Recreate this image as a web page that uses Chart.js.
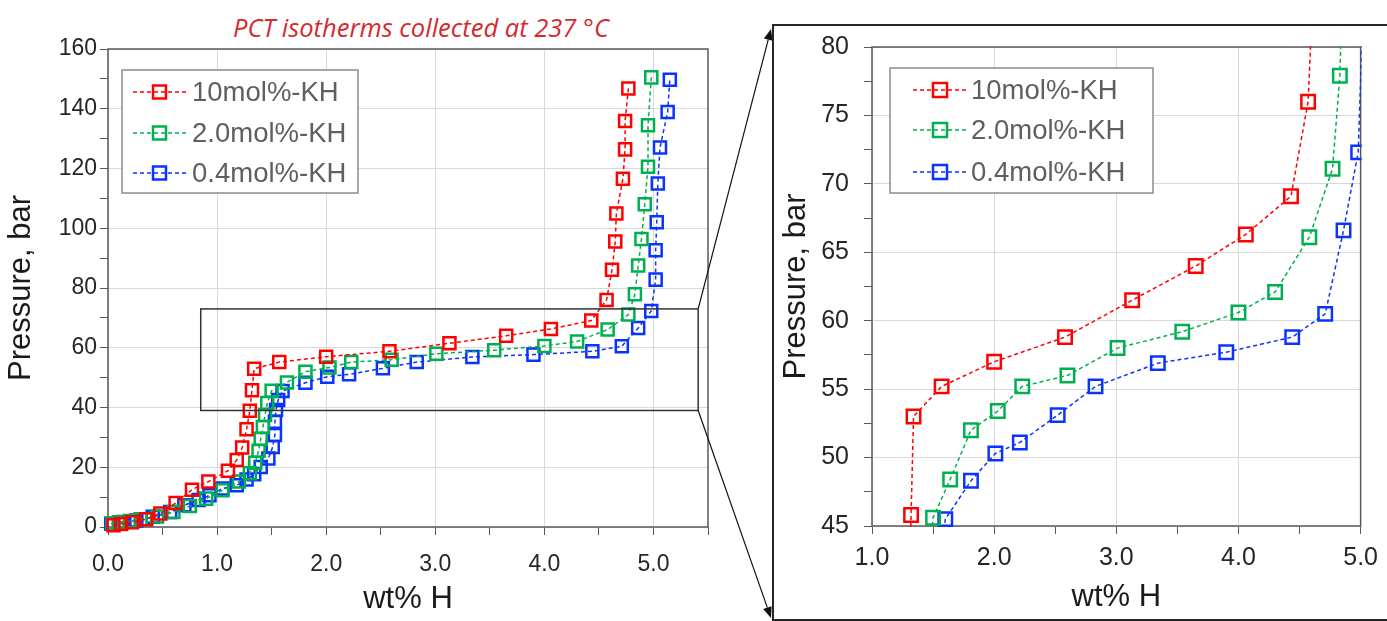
<!DOCTYPE html>
<html>
<head>
<meta charset="utf-8">
<script src="https://cdn.jsdelivr.net/npm/chart.js@4.4.1/dist/chart.umd.min.js"></script>
<style>
  html, body { margin: 0; padding: 0; background: #fff; overflow: hidden; }
  #wrap { position: relative; width: 1387px; height: 621px; }
  #title { position: absolute; left: 121px; top: 11px; width: 600px; text-align: center;
           font: italic 25.5px "Open Sans", sans-serif; color: #d42a2e; line-height: 32px; }
  #leftBox { position: absolute; left: 0; top: 0; width: 775px; height: 621px; }
  #rightBox { position: absolute; left: 775px; top: 0; width: 612px; height: 621px; }
  #frame { position: absolute; left: 772px; top: 24px; width: 700px; height: 593px;
           border: 2px solid #262626; pointer-events: none; }
</style>
</head>
<body>
<div id="wrap">
  <div id="title">PCT isotherms collected at 237 °C</div>
  <div id="leftBox"><canvas id="leftChart"></canvas></div>
  <div id="frame"></div>
  <div id="rightBox"><canvas id="rightChart"></canvas></div>
</div>
<script>
// series labels and colours
const seriesLabels = ['10mol%-KH', '2.0mol%-KH', '0.4mol%-KH'];
const seriesColors = ['#ff0000', '#00b050', '#0a33ff'];

// 10mol%-KH : wt% H and pressure (bar)
const kh10_wt = [0.05, 0.12, 0.22, 0.35, 0.48, 0.62, 0.77, 0.92, 1.10, 1.18, 1.23, 1.27, 1.30, 1.32, 1.34,
                 1.57, 2.00, 2.58, 3.13, 3.65, 4.06, 4.43, 4.57, 4.62, 4.65, 4.66, 4.72, 4.74, 4.74, 4.77];
const kh10_p  = [0.6, 1.0, 1.6, 2.6, 4.5, 8.0, 12.5, 15.2, 18.8, 22.4, 26.6, 32.7, 38.9, 45.8, 53.0,
                 55.2, 57.0, 58.8, 61.5, 64.0, 66.3, 69.1, 76.0, 86.1, 95.6, 104.9, 116.6, 126.4, 135.9, 146.8];

// 2.0mol%-KH
const kh2_wt = [0.04, 0.10, 0.20, 0.30, 0.45, 0.60, 0.75, 0.90, 1.05, 1.20, 1.30, 1.35, 1.38, 1.40, 1.42, 1.44, 1.46,
                1.50, 1.64, 1.81, 2.03, 2.23, 2.60, 3.01, 3.54, 4.00, 4.30, 4.58, 4.77, 4.83, 4.86, 4.89, 4.92, 4.95, 4.95, 4.98];
const kh2_p  = [1.2, 1.6, 2.0, 2.6, 3.5, 5.0, 7.0, 9.5, 12.3, 15.2, 18.0, 21.5, 25.5, 29.5, 33.5, 37.5, 41.5,
                45.6, 48.4, 52.0, 53.4, 55.2, 56.0, 58.0, 59.2, 60.6, 62.1, 66.1, 71.1, 77.9, 87.5, 96.4, 108.0, 120.6, 134.5, 150.5];

// 0.4mol%-KH
const kh04_wt = [0.03, 0.14, 0.26, 0.41, 0.57, 0.70, 0.83, 0.93, 1.05, 1.18, 1.27, 1.34, 1.40, 1.47, 1.51, 1.53, 1.53, 1.54, 1.56,
                 1.60, 1.81, 2.01, 2.21, 2.52, 2.83, 3.34, 3.90, 4.44, 4.71, 4.86, 4.98, 5.02, 5.02, 5.03, 5.04, 5.06, 5.13, 5.15];
const kh04_p  = [1.1, 1.7, 2.2, 3.4, 5.0, 7.3, 9.0, 10.6, 12.9, 14.0, 15.9, 17.7, 20.1, 22.9, 26.8, 30.8, 35.2, 39.2, 42.5,
                 45.5, 48.3, 50.3, 51.1, 53.1, 55.2, 56.9, 57.7, 58.8, 60.5, 66.6, 72.3, 82.8, 92.6, 102.0, 115.0, 127.0, 138.9, 149.7];

const seriesWt = [kh10_wt, kh2_wt, kh04_wt];
const seriesP = [kh10_p, kh2_p, kh04_p];

const FONT = '"Liberation Sans", Arial, sans-serif';
const GRID = '#d9d9d9';
const AXIS = '#595959';

function makeDatasets(radius, clip) {
  return seriesLabels.map((label, i) => ({
    label: label,
    data: seriesWt[i].map((x, j) => ({ x: x, y: seriesP[i][j] })),
    showLine: true,
    borderColor: seriesColors[i],
    borderWidth: 1.5,
    borderDash: [4, 3],
    pointStyle: 'rect',
    pointRadius: radius,
    pointBorderWidth: 2.5,
    pointBorderColor: seriesColors[i],
    pointBackgroundColor: 'rgba(0,0,0,0)',
    clip: clip
  }));
}

// box around the plot area
const framePlugin = {
  id: 'frame',
  beforeDatasetsDraw(chart) {
    const a = chart.chartArea, ctx = chart.ctx;
    ctx.save();
    ctx.strokeStyle = AXIS;
    ctx.lineWidth = 1.5;
    ctx.strokeRect(a.left, a.top, a.right - a.left, a.bottom - a.top);
    ctx.restore();
  }
};

// legend with a border, line and marker
const boxLegend = {
  id: 'boxLegend',
  afterDatasetsDraw(chart, args, o) {
    const ctx = chart.ctx, a = chart.chartArea;
    const x0 = a.left + o.x, y0 = a.top + o.y;
    ctx.save();
    ctx.fillStyle = '#fff';
    ctx.fillRect(x0, y0, o.w, o.h);
    ctx.strokeStyle = '#8c8c8c';
    ctx.lineWidth = 1.5;
    ctx.strokeRect(x0, y0, o.w, o.h);
    chart.data.datasets.forEach((ds, i) => {
      const cy = y0 + o.rows[i];
      ctx.strokeStyle = ds.borderColor;
      ctx.lineWidth = ds.borderWidth;
      ctx.setLineDash(ds.borderDash);
      ctx.beginPath();
      ctx.moveTo(x0 + o.lineX, cy);
      ctx.lineTo(x0 + o.lineX + o.lineLen, cy);
      ctx.stroke();
      ctx.setLineDash([]);
      ctx.lineWidth = ds.pointBorderWidth;
      const cx = x0 + o.lineX + o.lineLen / 2, s = o.marker;
      ctx.strokeRect(cx - s / 2, cy - s / 2, s, s);
      ctx.fillStyle = '#5f5f5f';
      ctx.font = o.fontSize + 'px ' + FONT;
      ctx.textBaseline = 'middle';
      ctx.fillText(ds.label, x0 + o.textX, cy + 1);
    });
    ctx.restore();
  }
};

// zoom box on the left chart and the arrows to the right panel
const zoomBox = {
  id: 'zoomBox',
  afterDraw(chart, args, o) {
    const ctx = chart.ctx, xs = chart.scales.x, ys = chart.scales.y;
    const l = xs.getPixelForValue(o.x0), r = xs.getPixelForValue(o.x1);
    const t = ys.getPixelForValue(o.y1), b = ys.getPixelForValue(o.y0);
    ctx.save();
    ctx.strokeStyle = '#333';
    ctx.lineWidth = 1.5;
    ctx.strokeRect(l, t, r - l, b - t);
    ctx.fillStyle = '#111';
    ctx.strokeStyle = '#111';
    ctx.lineWidth = 1.2;
    [[r, t, o.tx, o.ty1], [r, b, o.tx, o.ty2]].forEach(([x1, y1, x2, y2]) => {
      const ang = Math.atan2(y2 - y1, x2 - x1), hl = 11, hw = 4.5;
      const bx = x2 - hl * Math.cos(ang), by = y2 - hl * Math.sin(ang);
      ctx.beginPath();
      ctx.moveTo(x1, y1);
      ctx.lineTo(bx, by);
      ctx.stroke();
      ctx.beginPath();
      ctx.moveTo(x2, y2);
      ctx.lineTo(bx - hw * Math.sin(ang), by + hw * Math.cos(ang));
      ctx.lineTo(bx + hw * Math.sin(ang), by - hw * Math.cos(ang));
      ctx.closePath();
      ctx.fill();
    });
    ctx.restore();
  }
};

function axisOpts(min, max, step, labelEvery, decimals, title, fixedSize, horizontal, tickFont, tickPad, titlePad) {
  const isOn = (v, every) => Math.abs(v / every - Math.round(v / every)) < 1e-6;
  return {
    type: 'linear',
    min: min, max: max,
    border: { display: false },
    grid: {
      color: c => (c.tick && isOn(c.tick.value, labelEvery)) ? GRID : 'rgba(0,0,0,0)',
      tickColor: AXIS,
      tickLength: 8,
      lineWidth: 1
    },
    ticks: {
      stepSize: step,
      autoSkip: false,
      maxRotation: 0,
      padding: tickPad,
      color: '#262626',
      font: { family: FONT, size: tickFont },
      callback: v => isOn(v, labelEvery) ? v.toFixed(decimals) : ''
    },
    title: {
      display: true, text: title, color: '#1a1a1a',
      font: { family: FONT, size: 31 },
      padding: titlePad
    },
    afterFit: s => { if (horizontal) s.height = fixedSize; else s.width = fixedSize; }
  };
}

Chart.defaults.font.family = FONT;

new Chart(document.getElementById('leftChart'), {
  type: 'scatter',
  data: { datasets: makeDatasets(8.5, false) },
  options: {
    responsive: true, maintainAspectRatio: false, animation: false,
    layout: { padding: { left: 0, top: 49, right: 67, bottom: 0 } },
    scales: {
      x: axisOpts(0, 5.5, 0.5, 1, 1, 'wt% H', 94, true, 23, 16, { top: 0, bottom: 3 }),
      y: axisOpts(0, 160, 10, 20, 0, 'Pressure, bar', 108, false, 23, 3, { top: 3, bottom: 0 })
    },
    plugins: {
      legend: { display: false },
      tooltip: { enabled: false },
      boxLegend: { x: 14, y: 21, w: 236, h: 123, rows: [22, 63, 103], lineX: 11, lineLen: 53, marker: 13, textX: 70, fontSize: 27.5 },
      zoomBox: { x0: 0.85, x1: 5.41, y0: 39, y1: 73, tx: 771, ty1: 29, ty2: 618 }
    }
  },
  plugins: [framePlugin, boxLegend, zoomBox]
});

new Chart(document.getElementById('rightChart'), {
  type: 'scatter',
  data: { datasets: makeDatasets(9.5, 1) },
  options: {
    responsive: true, maintainAspectRatio: false, animation: false,
    layout: { padding: { left: 0, top: 47, right: 20, bottom: 0 } },
    scales: {
      x: axisOpts(1, 5, 0.5, 1, 1, 'wt% H', 95, true, 25, 9, { top: 0, bottom: 5 }),
      y: axisOpts(45, 80, 2.5, 5, 0, 'Pressure, bar', 97, false, 25, 15, { top: 3, bottom: 0 })
    },
    plugins: {
      legend: { display: false },
      tooltip: { enabled: false },
      boxLegend: { x: 18, y: 21, w: 263, h: 125, rows: [22, 62, 104], lineX: 23, lineLen: 54, marker: 14, textX: 81, fontSize: 27.5 }
    }
  },
  plugins: [framePlugin, boxLegend]
});
</script>
</body>
</html>
